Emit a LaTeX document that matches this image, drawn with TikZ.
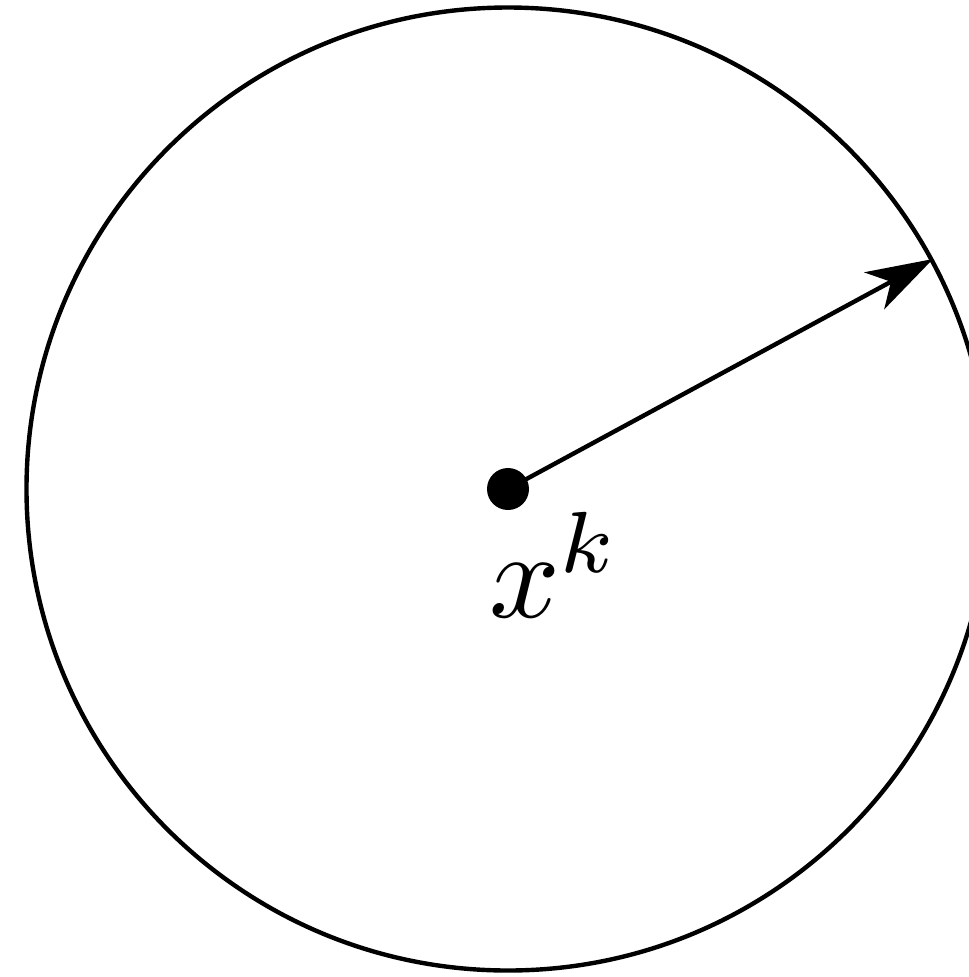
\documentclass[tikz,border=0pt]{standalone}
\usetikzlibrary{arrows.meta}
\begin{document}
\begin{tikzpicture}[x=0.25pt,y=-0.25pt,
  ball/.style={circle,fill=black,inner sep=0pt,minimum size=10.5pt},
  lbl/.style={inner sep=0pt,scale=3.1}]
\useasboundingbox (0,0) rectangle (969,977);
\clip (0,0) rectangle (969,977);
\draw[line width=1.1pt] (508,489) circle[radius=481.5*0.25pt];
\node[ball] (c) at (508,489) {};
\coordinate (t) at (933,259);
\draw[line width=1.1pt,-{Stealth[length=16.7pt,width=10.5pt,inset=4.75pt]}] (c.center) -- (t);
\node[lbl,anchor=base] (lab) at (555,617) {$x^k$};
\end{tikzpicture}
\end{document}
